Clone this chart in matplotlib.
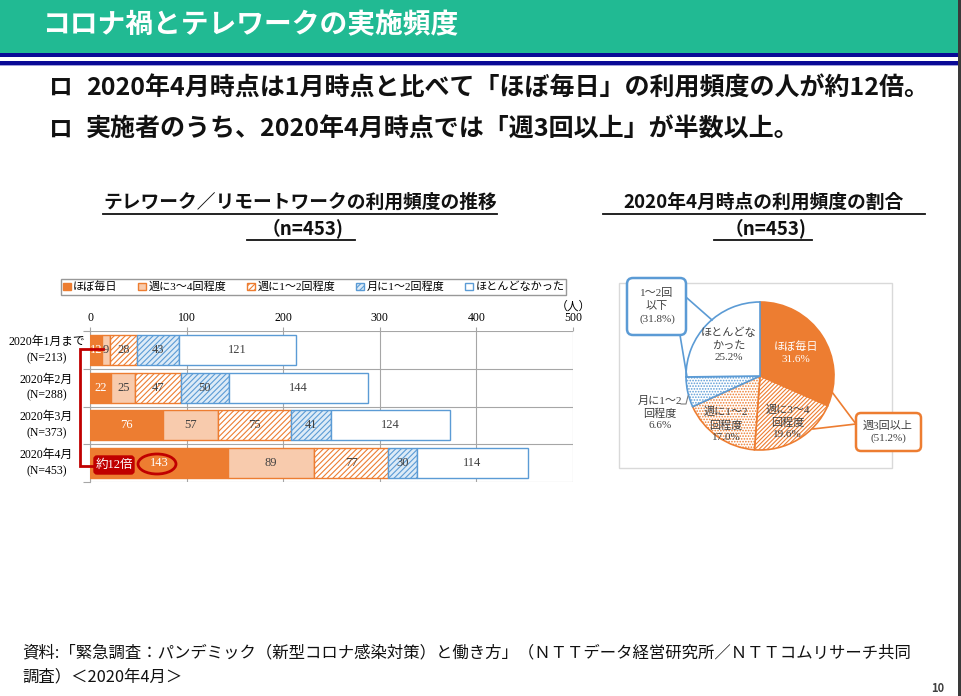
import matplotlib
matplotlib.use("Agg")
import matplotlib.pyplot as plt
import matplotlib.transforms as mtransforms
from matplotlib.patches import Rectangle, FancyBboxPatch, Ellipse
import numpy as np

plt.rcParams["font.family"] = ["Noto Sans CJK JP", "DejaVu Sans"]
plt.rcParams["hatch.linewidth"] = 0.8

SERIF = ["Liberation Serif", "Noto Sans CJK JP"]
ORANGE = "#ED7D31"
PEACH = "#F8CBAD"
BLUE = "#5B9BD5"
LIGHTBLUE = "#DDEBF7"
RED = "#C00000"
GREEN = "#21BA93"
NAVY = "#0A0A96"

# --- data -------------------------------------------------------------
months = ["2020年1月まで", "2020年2月", "2020年3月", "2020年4月"]
n_labels = ["(N=213)", "(N=288)", "(N=373)", "(N=453)"]
series = ["ほぼ毎日", "週に3～4回程度", "週に1～2回程度", "月に1～2回程度", "ほとんどなかった"]
daily = [12, 22, 76, 143]
week34 = [9, 25, 57, 89]
week12 = [28, 47, 75, 77]
month12 = [43, 50, 41, 30]
rarely = [121, 144, 124, 114]
x_ticks = [0, 100, 200, 300, 400, 500]

pie_labels = ["ほぼ毎日\n31.6%", "週に3～4\n回程度\n19.6%", "週に1～2\n回程度\n17.0%",
              "月に1～2\n回程度\n6.6%", "ほとんどな\nかった\n25.2%"]
pie_values = [31.6, 19.6, 17.0, 6.6, 25.2]

W, H = 961, 696
fig = plt.figure(figsize=(W / 100, H / 100), dpi=100)


def fbox(x0, y0, x1, y1):
    return [x0 / W, 1 - y1 / H, (x1 - x0) / W, (y1 - y0) / H]


# --- bar chart ----------------------------------------------------------
ax = fig.add_axes(fbox(90, 331, 573, 482))
bar_series = [daily, week34, week12, month12, rarely]
faces = [ORANGE, PEACH, "white", LIGHTBLUE, "white"]
edges = [ORANGE, ORANGE, ORANGE, BLUE, BLUE]
hatches = [None, None, "//////", "//////", None]
txt_colors = ["white", "#404040", "#404040", "#404040", "#404040"]
ypos = list(range(len(months)))
left = [0] * len(months)
handles = []
for vals, fc, ec, ht, tc, name in zip(bar_series, faces, edges, hatches, txt_colors, series):
    bars = ax.barh(ypos, vals, left=left, height=0.8, color=fc, edgecolor=ec,
                   hatch=ht, linewidth=1.0, label=name, zorder=3)
    handles.append(bars)
    for y, v, l in zip(ypos, vals, left):
        ax.text(l + v / 2, y, str(v), ha="center", va="center", fontsize=9,
                color=tc, family=SERIF, zorder=4)
    left = [a + b for a, b in zip(left, vals)]

ax.set_xlim(0, 500)
ax.set_ylim(len(months) - 0.5, -0.5)
ax.xaxis.tick_top()
ax.set_xticks(x_ticks)
ax.set_xticklabels([str(t) for t in x_ticks], family=SERIF, fontsize=8.5)
ax.tick_params(axis="x", length=3, color="#A6A6A6", pad=2)
ax.set_yticks([i - 0.5 for i in range(len(months) + 1)])
ax.set_yticklabels([])
ax.tick_params(axis="y", length=5, color="#A6A6A6")
ax.grid(True, color="#A6A6A6", linewidth=0.8, zorder=0)
for s in ["top", "right", "bottom"]:
    ax.spines[s].set_visible(False)
ax.spines["left"].set_color("#A6A6A6")

trans = mtransforms.blended_transform_factory(ax.transAxes, ax.transData)
for i, (m, n) in enumerate(zip(months, n_labels)):
    ax.text(-0.09, i, m + "\n" + n, transform=trans, ha="center", va="center",
            fontsize=8.5, family=SERIF, linespacing=1.45)
ax.text(1.0, 1.16, "（人）", transform=ax.transAxes, ha="center", va="center",
        fontsize=8.5, family=SERIF)

fig.legend(handles, series, ncol=5, loc="center", mode="expand",
           bbox_to_anchor=fbox(55, 278, 572, 296),
           prop={"family": SERIF, "size": 8}, frameon=True, fancybox=False,
           edgecolor="#7F7F7F", handlelength=0.7, handleheight=0.7,
           handletextpad=0.2, borderpad=0.2, columnspacing=0.6)

# --- pie chart ----------------------------------------------------------
axp = fig.add_axes(fbox(686, 302, 834, 450))
pie_faces = [ORANGE, "white", "white", "white", "white"]
pie_edges = [ORANGE, ORANGE, ORANGE, BLUE, BLUE]
pie_hatch = [None, "////////", "......", "......", None]
wedges, _ = axp.pie(pie_values, startangle=90, counterclock=False,
                    colors=pie_faces, wedgeprops={"linewidth": 1.2})
for w, ec, ht in zip(wedges, pie_edges, pie_hatch):
    w.set_edgecolor(ec)
    if ht:
        w.set_hatch(ht)
axp.set_xlim(-1, 1)
axp.set_ylim(-1, 1)

label_dist = [0.58, 0.72, 0.8, None, 0.6]
label_col = ["white", "#404040", "#404040", "#404040", "#404040"]
for w, lab, d, c in zip(wedges, pie_labels, label_dist, label_col):
    if d is None:
        continue
    ang = np.deg2rad((w.theta1 + w.theta2) / 2)
    axp.text(d * np.cos(ang), d * np.sin(ang), lab, ha="center", va="center",
             fontsize=8, color=c, family=SERIF, linespacing=1.35, zorder=5)
axp.text(-1.35, -0.5, pie_labels[3], ha="center", va="center", fontsize=8,
         color="#404040", family=SERIF, linespacing=1.35, clip_on=False)

# --- page overlay -------------------------------------------------------
ov = fig.add_axes([0, 0, 1, 1])
ov.set_xlim(0, W)
ov.set_ylim(H, 0)
ov.axis("off")
ov.patch.set_visible(False)
ov.set_zorder(5)

ov.add_patch(Rectangle((0, 0), W, 52.5, color=GREEN, lw=0))
ov.add_patch(Rectangle((0, 52.5), W, 4.3, color=NAVY, lw=0))
ov.add_patch(Rectangle((0, 61), W, 4.3, color=NAVY, lw=0))
ov.add_patch(Rectangle((0, 65.3), W, 1.2, color="#A0A0D8", lw=0))
ov.add_patch(Rectangle((958, 0), 3, H, color="#3A3A3A", lw=0))
ov.text(42, 25, "コロナ禍とテレワークの実施頻度", color="white", fontsize=20,
        fontweight="bold", va="center")

ov.text(48, 88, "ロ", fontsize=17, fontweight="bold", va="center", color="#111111")
ov.text(86, 88, "2020年4月時点は1月時点と比べて「ほぼ毎日」の利用頻度の人が約12倍。",
        fontsize=18, fontweight="bold", va="center", color="#111111")
ov.text(48, 130, "ロ", fontsize=17, fontweight="bold", va="center", color="#111111")
ov.text(86, 130, "実施者のうち、2020年4月時点では「週3回以上」が半数以上。",
        fontsize=18, fontweight="bold", va="center", color="#111111")

ov.text(300, 202, "テレワーク／リモートワークの利用頻度の推移", fontsize=13.5,
        fontweight="bold", ha="center", va="center", color="#111111")
ov.text(303, 229, "（n=453)", fontsize=13.5, fontweight="bold", ha="center",
        va="center", color="#111111")
ov.plot([103, 497], [214, 214], color="#111111", lw=1.3)
ov.plot([247, 355], [240, 240], color="#111111", lw=1.3)
ov.text(764, 202, "2020年4月時点の利用頻度の割合", fontsize=13.5,
        fontweight="bold", ha="center", va="center", color="#111111")
ov.text(766, 229, "（n=453)", fontsize=13.5, fontweight="bold", ha="center",
        va="center", color="#111111")
ov.plot([603, 925], [214, 214], color="#111111", lw=1.3)
ov.plot([714, 812], [240, 240], color="#111111", lw=1.3)

# bar annotations
ov.plot([103, 80, 80, 93], [349, 349, 466, 466], color=RED, lw=2, solid_joinstyle="miter")
ov.add_patch(FancyBboxPatch((94, 456), 40, 18, boxstyle="round,pad=0,rounding_size=3",
                            fc=RED, ec=RED, lw=1))
ov.text(114, 465, "約12倍", color="white", fontsize=9, ha="center", va="center",
        family=SERIF)
ov.add_patch(Ellipse((157, 464), 38, 20, fill=False, ec=RED, lw=2))

# pie frame and callouts
ov.add_patch(Rectangle((619, 283), 273, 185, fill=False, ec="#D9D9D9", lw=1))
ov.plot([687, 712], [298, 320], color=BLUE, lw=1.2)
ov.plot([680, 687], [335, 377], color=BLUE, lw=1.2)
ov.add_patch(FancyBboxPatch((627, 278), 59, 57, boxstyle="round,pad=0,rounding_size=6",
                            fc="white", ec=BLUE, lw=1.8))
ov.text(657, 306, "1～2回\n以下\n(31.8%)", ha="center", va="center", fontsize=8,
        family=SERIF, linespacing=1.4, color="#404040")
ov.plot([832, 856], [392, 424], color=ORANGE, lw=1.2)
ov.plot([813, 856], [429, 424], color=ORANGE, lw=1.2)
ov.add_patch(FancyBboxPatch((856, 413), 65, 38, boxstyle="round,pad=0,rounding_size=5",
                            fc="white", ec=ORANGE, lw=1.8))
ov.text(888, 432, "週3回以上\n(51.2%)", ha="center", va="center", fontsize=8,
        family=SERIF, linespacing=1.4, color="#404040")
ov.plot([681, 686, 688], [404, 404, 396], color="#7F7F7F", lw=0.8)

# footer
ov.text(22, 653, "資料:「緊急調査：パンデミック（新型コロナ感染対策）と働き方」（ＮＴＴデータ経営研究所／ＮＴＴコムリサーチ共同",
        fontsize=11.8, va="center", color="#111111")
ov.text(22, 677, "調査）＜2020年4月＞", fontsize=11.8, va="center", color="#111111")
ov.text(938, 695, "10", fontsize=8, fontweight="bold", va="bottom", ha="center",
        color="#404040")

fig.savefig("out.png", dpi=100)
